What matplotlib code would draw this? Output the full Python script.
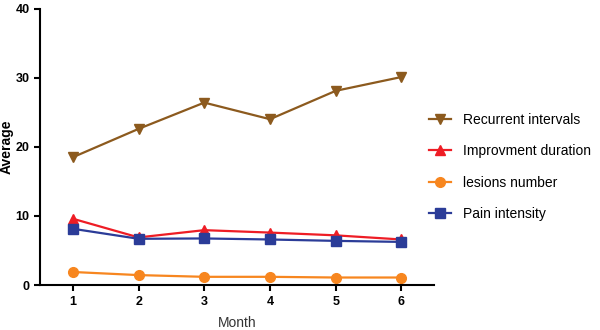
import matplotlib
matplotlib.use("Agg")
import matplotlib.pyplot as plt

plt.rcParams['font.family'] = ['Liberation Sans', 'DejaVu Sans']

# data
months = [1, 2, 3, 4, 5, 6]
recurrent_intervals = [18.5, 22.6, 26.4, 24.0, 28.1, 30.1]
improvment_duration = [9.6, 6.9, 7.95, 7.6, 7.2, 6.6]
lesions_number = [1.9, 1.45, 1.2, 1.2, 1.1, 1.1]
pain_intensity = [8.15, 6.7, 6.75, 6.6, 6.4, 6.25]

series_labels = ['Recurrent intervals', 'Improvment duration', 'lesions number', 'Pain intensity']
y_ticks = [0, 10, 20, 30, 40]

fig = plt.figure(figsize=(6, 3.3), dpi=100)
ax = fig.add_axes([0.0667, 0.136, 0.657, 0.838])

lines = []
lines += ax.plot(months, recurrent_intervals, color='#8c5a1e', marker='v', markersize=7, lw=1.6)
lines += ax.plot(months, improvment_duration, color='#ee1d25', marker='^', markersize=7, lw=1.6)
lines += ax.plot(months, lesions_number, color='#f7861f', marker='o', markersize=7, lw=1.6)
lines += ax.plot(months, pain_intensity, color='#2b3c98', marker='s', markersize=7, lw=1.6)

ax.set_xlim(0.5, 6.5)
ax.set_ylim(0, 40)
ax.set_xticks(months)
ax.set_yticks(y_ticks)
for side in ['top', 'right']:
    ax.spines[side].set_visible(False)
for side in ['left', 'bottom']:
    ax.spines[side].set_linewidth(1.5)
ax.tick_params(axis='both', width=1.5, length=4, labelsize=9)
for lab in ax.get_xticklabels() + ax.get_yticklabels():
    lab.set_fontweight('bold')

ax.set_ylabel('Average', fontsize=10, fontweight='bold')
ax.yaxis.set_label_coords(-0.066, 0.5)
ax.set_xlabel('Month', fontsize=10, color='#333333', labelpad=6)

fig.legend(lines, series_labels, loc='upper left', bbox_to_anchor=(0.705, 0.675),
           frameon=False, fontsize=10, labelspacing=1.25, handlelength=1.6,
           handletextpad=0.9, borderaxespad=0)

fig.savefig('out.png', dpi=100)
